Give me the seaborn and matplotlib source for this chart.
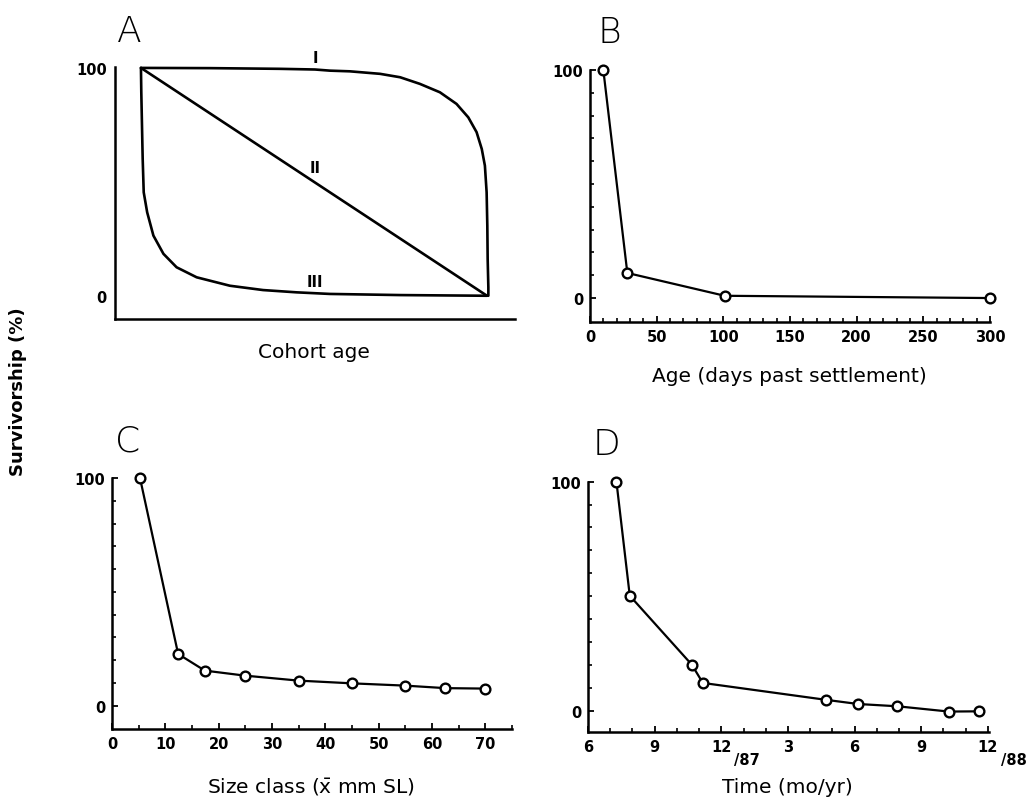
import numpy as np
import pandas as pd
import matplotlib
matplotlib.use("Agg")
import matplotlib.pyplot as plt
import seaborn as sns

# DATA ---------------------------------------------------------------
# A: idealised survivorship curves (cohort age scaled 0..1)
type1_age = [0.0, 0.2, 0.4, 0.503, 0.546, 0.604, 0.691, 0.749, 0.806, 0.864,
             0.912, 0.946, 0.970, 0.985, 0.994, 0.999, 1.001, 1.002, 1.004, 1.004]
type1_surv = [100, 99.9, 99.6, 99.3, 98.8, 98.5, 97.4, 95.9, 93.0, 89.3,
              84.2, 78.3, 71.8, 64.4, 57.1, 45.4, 30.7, 16.1, 3.7, 0]
type2_age = [0.0, 1.0]
type2_surv = [100, 0]
type3_age = [0.0, 0.001, 0.003, 0.005, 0.008, 0.018, 0.036, 0.065, 0.103,
             0.161, 0.257, 0.353, 0.450, 0.546, 0.75, 1.0]
type3_surv = [100, 89.3, 74.7, 60.1, 45.4, 36.6, 26.4, 18.4, 12.5,
              8.1, 4.4, 2.5, 1.5, 0.8, 0.3, 0]
curve_labels = ["I", "II", "III"]

# B: survivorship vs age (days past settlement)
age_days = [10, 28, 101, 300]
surv_age = [100, 11, 1, 0]

# C: survivorship vs size class (mean mm SL)
size_class = [5.25, 12.4, 17.4, 24.9, 35, 45, 55, 62.5, 70]
surv_size = [100, 22.7, 15.4, 13.2, 11.0, 9.8, 8.8, 7.7, 7.5]

# D: survivorship vs time (month index, 6 = June 1987, 24 = Dec 1988)
time_month = [7.28, 7.88, 10.67, 11.17, 16.73, 18.16, 19.93, 22.24, 23.62]
surv_time = [100, 50.2, 20.1, 12.1, 4.7, 2.9, 1.9, -0.4, -0.3]
time_ticks = [6, 9, 12, 15, 18, 21, 24]
time_ticklabels = ["6", "9", "12", "3", "6", "9", "12"]

# FIGURE ------------------------------------------------------------
sns.set_style("ticks")
plt.rcParams['font.family'] = ['DejaVu Sans']
plt.rcParams.update({"text.color": "black", "axes.labelcolor": "black",
                     "xtick.color": "black", "ytick.color": "black"})

W, H = 1036, 804
fig = plt.figure(figsize=(W / 100, H / 100), dpi=100)


def px_axes(left, right, top, bottom):
    return fig.add_axes([left / W, 1 - bottom / H, (right - left) / W, (bottom - top) / H])


def style(ax):
    for s in ["top", "right"]:
        ax.spines[s].set_visible(False)
    for s in ["left", "bottom"]:
        ax.spines[s].set_linewidth(1.8)
        ax.spines[s].set_color("black")
    ax.tick_params(direction="in", width=1.3, length=4, colors="black",
                   labelsize=10.5, pad=5)
    ax.tick_params(which="minor", direction="in", width=1.2, length=3)
    for lab in ax.get_xticklabels() + ax.get_yticklabels():
        lab.set_fontweight("bold")


line_kw = dict(color="black", linewidth=1.6, marker="o", markersize=7,
               markerfacecolor="white", markeredgecolor="black",
               markeredgewidth=1.7, estimator=None, sort=False, legend=False,
               clip_on=False)

# A ------------------------------------------------------------------
axA = px_axes(115, 515, 68, 320)
for xs, ys in [(type1_age, type1_surv), (type2_age, type2_surv), (type3_age, type3_surv)]:
    sns.lineplot(x=xs, y=ys, ax=axA, color="black", linewidth=1.9,
                 estimator=None, sort=False, legend=False, clip_on=False,
                 solid_joinstyle="round")
axA.set_xlim(-0.075, 1.081)
axA.set_ylim(-10.2, 100.4)
axA.set_xticks([])
axA.set_yticks([0, 100])
axA.set_yticklabels(["0", "100"])
style(axA)
axA.tick_params(axis="y", length=0, pad=6)
for lab, yv in zip(curve_labels, [104.4, 56.1, 6.2]):
    axA.text(0.503, yv, lab, ha="center", va="center", fontsize=10.5,
             fontweight="bold", clip_on=False)
axA.set_xlabel("Cohort age", fontsize=14.5)
axA.xaxis.set_label_coords(0.4975, -0.091)

# B ------------------------------------------------------------------
axB = px_axes(590, 990, 71, 323)
sns.lineplot(x=age_days, y=surv_age, ax=axB, **line_kw)
axB.set_xlim(0, 300)
axB.set_ylim(-10.5, 100)
axB.set_xticks(np.arange(0, 301, 50))
axB.set_xticks(np.arange(0, 301, 10), minor=True)
axB.set_yticks([0, 100])
axB.set_yticks(np.arange(0, 101, 10), minor=True)
style(axB)
axB.set_xlabel("Age (days past settlement)", fontsize=14.5)
axB.xaxis.set_label_coords(0.499, -0.175)

# C ------------------------------------------------------------------
axC = px_axes(112, 512, 479, 730)
sns.lineplot(x=size_class, y=surv_size, ax=axC, **line_kw)
axC.set_xlim(0, 75)
axC.set_ylim(-10.25, 100)
axC.set_xticks(np.arange(0, 71, 10))
axC.set_xticks(np.arange(0, 76, 5), minor=True)
axC.set_yticks([0, 100])
axC.set_yticks(np.arange(0, 101, 10), minor=True)
style(axC)
axC.set_xlabel(r"Size class ($\bar{\mathrm{x}}$ mm SL)", fontsize=14.5)
axC.xaxis.set_label_coords(0.4975, -0.187)

# D ------------------------------------------------------------------
axD = px_axes(588, 989, 482.7, 732.7)
sns.lineplot(x=time_month, y=surv_time, ax=axD, **line_kw)
axD.set_xlim(6, 24.05)
axD.set_ylim(-9.2, 100)
axD.set_xticks(time_ticks)
axD.set_xticklabels(time_ticklabels)
axD.set_xticks(np.arange(6, 25, 1), minor=True)
axD.set_yticks([0, 100])
axD.set_yticks(np.arange(0, 101, 10), minor=True)
style(axD)
for xv, yr in [(12, "/87"), (24, "/88")]:
    axD.annotate(yr, xy=(xv, 0), xycoords=("data", "axes fraction"),
                 xytext=(13, -20), textcoords="offset pixels",
                 ha="left", va="top", fontsize=10.5, fontweight="bold")
axD.set_xlabel("Time (mo/yr)", fontsize=14.5)
axD.xaxis.set_label_coords(0.4975, -0.181)

# panel letters and shared label
for letter, x, y in [("A", 117, 42), ("B", 597, 43), ("C", 115, 452), ("D", 593, 455)]:
    fig.text(x / W, 1 - y / H, letter, fontsize=26, fontweight="light",
             family="DejaVu Sans", ha="left", va="baseline")
fig.text(18 / W, 1 - 392 / H, "Survivorship (%)", rotation=90, fontsize=13,
         fontweight="bold", ha="center", va="center")

fig.savefig("out.png", dpi=100, facecolor="white")
